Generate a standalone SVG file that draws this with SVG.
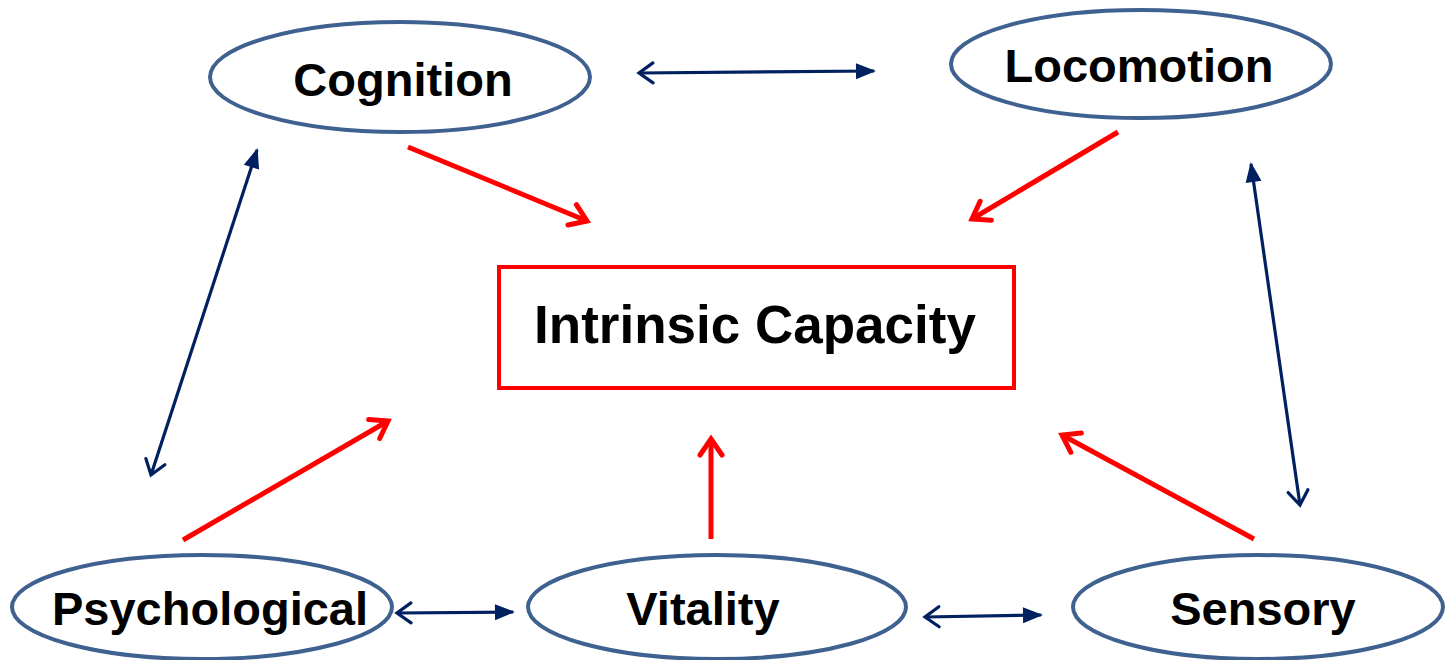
<svg xmlns="http://www.w3.org/2000/svg" width="1445" height="660" viewBox="0 0 1445 660">
<style>
.node{fill:#fff;stroke:#3F6190;stroke-width:4}
.lbl{font-family:"Liberation Sans",Arial,sans-serif;font-weight:bold;font-size:47px;fill:#000;text-anchor:middle}
.big{font-size:53px}
.blue{stroke:#002060;stroke-width:3.2;fill:none}
.red{stroke:#ff0000;stroke-width:5;fill:none}
</style>
<defs>
<marker id="tri" markerUnits="userSpaceOnUse" markerWidth="24" markerHeight="20" viewBox="-20 -10 24 20" refX="0" refY="0" orient="auto-start-reverse">
<path d="M-18,-8 L2,0 L-18,8 Z" fill="#002060"/>
</marker>
<marker id="vb" markerUnits="userSpaceOnUse" markerWidth="24" markerHeight="26" viewBox="-18 -13 22 26" refX="0" refY="0" orient="auto-start-reverse">
<path d="M-14,-10 L0,0 L-14,10" fill="none" stroke="#002060" stroke-width="3.2" stroke-linecap="round" stroke-linejoin="miter"/>
</marker>
<marker id="vr" markerUnits="userSpaceOnUse" markerWidth="26" markerHeight="28" viewBox="-20 -14 24 28" refX="0" refY="0" orient="auto">
<path d="M-16,-11 L0,0 L-16,11" fill="none" stroke="#ff0000" stroke-width="5" stroke-linecap="round" stroke-linejoin="miter"/>
</marker>
</defs>
<g id="connectors">
<line class="blue" x1="639" y1="73" x2="874" y2="71" marker-start="url(#vb)" marker-end="url(#tri)"/>
<line class="blue" x1="151" y1="475" x2="257" y2="150" marker-start="url(#vb)" marker-end="url(#tri)"/>
<line class="blue" x1="1300" y1="505" x2="1251" y2="164" marker-start="url(#vb)" marker-end="url(#tri)"/>
<line class="blue" x1="397" y1="613" x2="513" y2="612" marker-start="url(#vb)" marker-end="url(#tri)"/>
<line class="blue" x1="925" y1="617" x2="1041" y2="615" marker-start="url(#vb)" marker-end="url(#tri)"/>
<line class="red" x1="408" y1="147" x2="587" y2="221" marker-end="url(#vr)"/>
<line class="red" x1="1118" y1="132" x2="972" y2="219" marker-end="url(#vr)"/>
<line class="red" x1="183" y1="540" x2="388" y2="421" marker-end="url(#vr)"/>
<line class="red" x1="711" y1="539" x2="711" y2="439" marker-end="url(#vr)"/>
<line class="red" x1="1254" y1="539" x2="1062" y2="435" marker-end="url(#vr)"/>
</g>
<g id="cognition">
<ellipse class="node" cx="400" cy="77" rx="190" ry="55"/>
<text class="lbl" x="403" y="96">Cognition</text>
</g>
<g id="locomotion">
<ellipse class="node" cx="1141" cy="64" rx="190" ry="54"/>
<text class="lbl" x="1139" y="82">Locomotion</text>
</g>
<g id="intrinsic-capacity">
<rect x="499" y="267" width="515" height="121" fill="#fff" stroke="#ff0000" stroke-width="4"/>
<text class="lbl big" x="755" y="343">Intrinsic Capacity</text>
</g>
<g id="psychological">
<ellipse class="node" cx="202" cy="607" rx="190" ry="52"/>
<text class="lbl" x="210" y="625">Psychological</text>
</g>
<g id="vitality">
<ellipse class="node" cx="717" cy="607" rx="189" ry="52"/>
<text class="lbl" x="703" y="625">Vitality</text>
</g>
<g id="sensory">
<ellipse class="node" cx="1258" cy="607" rx="185" ry="52"/>
<text class="lbl" x="1263" y="625">Sensory</text>
</g>
</svg>
